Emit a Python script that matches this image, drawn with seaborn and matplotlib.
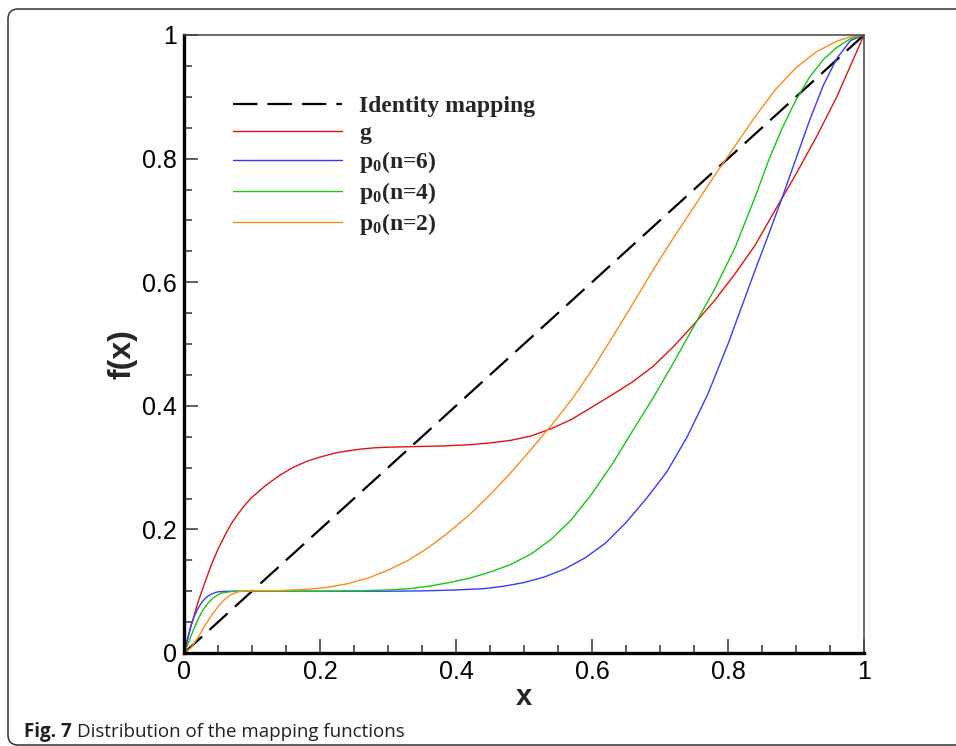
import numpy as np
import pandas as pd
import matplotlib
matplotlib.use("Agg")
import matplotlib.pyplot as plt
from matplotlib.patches import FancyBboxPatch
from matplotlib.transforms import IdentityTransform
from matplotlib.ticker import MultipleLocator
import seaborn as sns

# ---- data -------------------------------------------------------------
identity_x = [0.0, 1.0]
identity_y = [0.0, 1.0]

g_x = [0.0, 0.01, 0.02, 0.03, 0.04, 0.05, 0.06, 0.07, 0.08, 0.09, 0.10,
       0.12, 0.14, 0.16, 0.18, 0.20, 0.22, 0.24, 0.26, 0.28, 0.30, 0.34,
       0.38, 0.42, 0.45, 0.48, 0.51, 0.54, 0.57, 0.60, 0.63, 0.66, 0.69,
       0.72, 0.75, 0.78, 0.81, 0.84, 0.87, 0.90, 0.93, 0.96, 0.98, 1.0]
g_y = [0.0, 0.042, 0.080, 0.112, 0.142, 0.168, 0.190, 0.210, 0.226, 0.240,
       0.252, 0.271, 0.287, 0.300, 0.310, 0.317, 0.323, 0.327, 0.330, 0.332,
       0.333, 0.334, 0.335, 0.337, 0.340, 0.344, 0.351, 0.363, 0.378, 0.398,
       0.418, 0.439, 0.464, 0.496, 0.532, 0.570, 0.613, 0.660, 0.718, 0.775,
       0.835, 0.900, 0.950, 1.0]

p6_x = [0.0, 0.005, 0.01, 0.015, 0.02, 0.025, 0.03, 0.035, 0.04, 0.045,
        0.05, 0.06, 0.08, 0.30, 0.35, 0.40, 0.44, 0.47, 0.50, 0.53, 0.56,
        0.59, 0.62, 0.65, 0.68, 0.71, 0.74, 0.77, 0.80, 0.82, 0.84, 0.86,
        0.88, 0.90, 0.92, 0.94, 0.96, 0.98, 1.0]
p6_y = [0.0, 0.022, 0.044, 0.059, 0.071, 0.080, 0.087, 0.092, 0.095, 0.0975,
        0.099, 0.0998, 0.100, 0.100, 0.1005, 0.102, 0.104, 0.108, 0.114,
        0.123, 0.136, 0.154, 0.178, 0.211, 0.250, 0.293, 0.350, 0.418, 0.500,
        0.560, 0.620, 0.678, 0.738, 0.800, 0.862, 0.918, 0.962, 0.991, 1.0]

p4_x = [0.0, 0.005, 0.01, 0.015, 0.02, 0.025, 0.03, 0.035, 0.04, 0.045,
        0.05, 0.055, 0.06, 0.07, 0.08, 0.20, 0.25, 0.30, 0.33, 0.36, 0.39,
        0.42, 0.45, 0.48, 0.51, 0.54, 0.57, 0.60, 0.63, 0.66, 0.69, 0.72,
        0.75, 0.78, 0.81, 0.84, 0.86, 0.88, 0.90, 0.92, 0.94, 0.96, 0.98, 1.0]
p4_y = [0.0, 0.012, 0.027, 0.040, 0.053, 0.064, 0.073, 0.080, 0.086, 0.091,
        0.094, 0.097, 0.098, 0.0995, 0.100, 0.100, 0.1005, 0.102, 0.104,
        0.108, 0.114, 0.121, 0.131, 0.143, 0.160, 0.184, 0.216, 0.258, 0.306,
        0.360, 0.413, 0.470, 0.529, 0.588, 0.655, 0.738, 0.798, 0.850, 0.895,
        0.932, 0.960, 0.980, 0.994, 1.0]

p2_x = [0.0, 0.01, 0.02, 0.03, 0.04, 0.05, 0.06, 0.07, 0.08, 0.09, 0.10,
        0.14, 0.18, 0.21, 0.24, 0.27, 0.30, 0.33, 0.36, 0.39, 0.42, 0.45,
        0.48, 0.51, 0.54, 0.57, 0.60, 0.63, 0.66, 0.69, 0.72, 0.75, 0.78,
        0.81, 0.84, 0.87, 0.90, 0.93, 0.96, 0.98, 1.0]
p2_y = [0.0, 0.008, 0.024, 0.043, 0.060, 0.075, 0.087, 0.095, 0.099, 0.1005,
        0.101, 0.101, 0.103, 0.106, 0.112, 0.121, 0.134, 0.150, 0.171, 0.196,
        0.224, 0.256, 0.291, 0.329, 0.368, 0.410, 0.458, 0.511, 0.565, 0.620,
        0.672, 0.722, 0.772, 0.820, 0.868, 0.912, 0.947, 0.973, 0.990, 0.997,
        1.0]

labels = ["Identity mapping", "g", "p$_0$(n=6)", "p$_0$(n=4)", "p$_0$(n=2)"]
colors = ["black", "#e01414", "#3a3aff", "#14c814", "#ff8a1a"]

# ---- style ------------------------------------------------------------
sns.set_style("white")
plt.rcParams["font.family"] = ["Liberation Sans", "DejaVu Sans"]
plt.rcParams["mathtext.fontset"] = "custom"
plt.rcParams["mathtext.rm"] = "Liberation Serif:bold"
plt.rcParams["mathtext.it"] = "Liberation Serif:bold"
plt.rcParams["mathtext.bf"] = "Liberation Serif:bold"

fig = plt.figure(figsize=(9.56, 7.46), dpi=100)
ax = fig.add_axes([184 / 956, 93 / 746, 680 / 956, 618 / 746])

series = [
    (identity_x, identity_y),
    (g_x, g_y),
    (p6_x, p6_y),
    (p4_x, p4_y),
    (p2_x, p2_y),
]
for (xs, ys), lab, col in zip(series, labels, colors):
    df = pd.DataFrame({"x": xs, "f(x)": ys})
    lw = 1.6 if lab == "Identity mapping" else 1.0
    sns.lineplot(data=df, x="x", y="f(x)", ax=ax, color=col, lw=lw,
                 label=lab, sort=True, estimator=None)

ax.lines[0].set_dashes([11, 4.5])

ax.set_xlim(0, 1)
ax.set_ylim(0, 1)
ax.xaxis.set_major_locator(MultipleLocator(0.2))
ax.yaxis.set_major_locator(MultipleLocator(0.2))
ax.xaxis.set_minor_locator(MultipleLocator(0.05))
ax.yaxis.set_minor_locator(MultipleLocator(0.05))
ax.xaxis.set_major_formatter(plt.FuncFormatter(lambda v, p: f"{v:g}"))
ax.yaxis.set_major_formatter(plt.FuncFormatter(lambda v, p: f"{v:g}"))

ax.tick_params(which="both", direction="in", top=False, right=False,
               left=True, bottom=True, color="#333333", width=1.1,
               labelsize=18, labelcolor="black")
ax.tick_params(which="major", length=10, pad=5)
ax.tick_params(which="minor", length=6)

for side in ("left", "bottom"):
    ax.spines[side].set_linewidth(2.4)
    ax.spines[side].set_color("black")
for side in ("top", "right"):
    ax.spines[side].set_linewidth(1.1)
    ax.spines[side].set_color("#444444")

ax.set_xlabel("x", fontsize=21, fontweight="bold", labelpad=-1)
ax.set_ylabel("f(x)", fontsize=23, fontweight="bold")
ax.yaxis.set_label_coords(-0.069, 0.484)

leg = ax.legend(loc="upper left", bbox_to_anchor=(0.072, 0.902), frameon=False,
                borderpad=0, borderaxespad=0, handlelength=4.6,
                handletextpad=0.75, labelspacing=0.22,
                prop={"family": "Liberation Serif", "weight": "bold", "size": 17})
for h in leg.get_lines():
    h.set_linewidth(1.0)
leg.get_lines()[0].set_linewidth(1.6)
leg.get_lines()[0].set_dashes([11, 4.5])

# caption
cap_font = ["Open Sans", "DejaVu Sans"]
t1 = fig.text(24 / 956, 9 / 746, "Fig. 7", fontsize=13.5, fontweight="bold",
              family=cap_font, color="#231f20", va="baseline")
fig.canvas.draw()
bb = t1.get_window_extent()
fig.text((bb.x1 + 5) / 956, 9 / 746, "Distribution of the mapping functions",
         fontsize=13.5, family=cap_font, color="#231f20", va="baseline")

# rounded frame around the figure
frame = FancyBboxPatch((8, 1), 1000, 736, boxstyle="round,pad=0,rounding_size=10",
                       transform=IdentityTransform(), fill=False,
                       edgecolor="#333333", lw=1.1, clip_on=False)
fig.patches.append(frame)

fig.savefig("out.png", dpi=100)
